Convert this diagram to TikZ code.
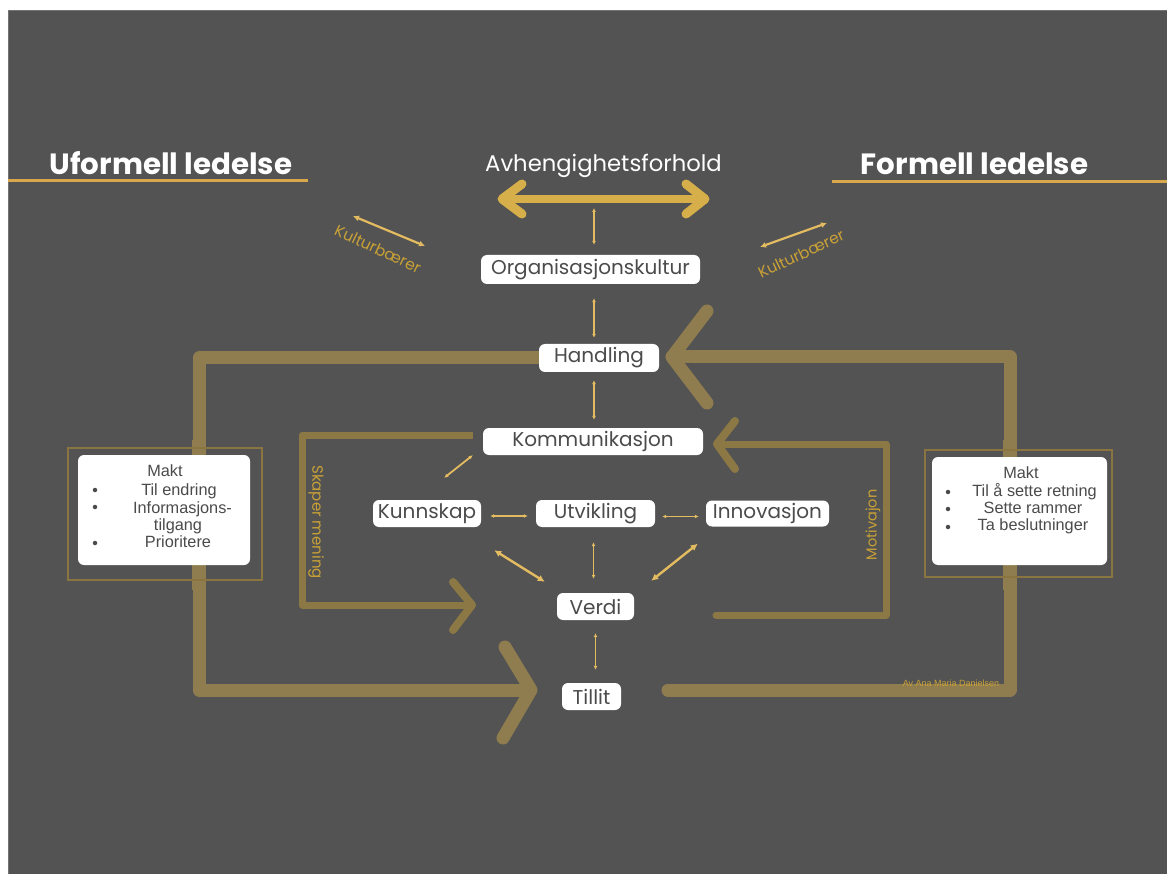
\documentclass[tikz,border=0pt]{standalone}
\usepackage{fontspec}
\setmainfont{Poppins}
\newfontfamily\arialfont{Liberation Sans}
\usetikzlibrary{arrows.meta,calc}
\definecolor{bg}{HTML}{535353}
\definecolor{boxtext}{HTML}{4B4B4B}
\definecolor{linegold}{HTML}{D9A84C}
\definecolor{tipgold}{HTML}{E3BB60}
\definecolor{labelgold}{HTML}{C9A136}
\definecolor{bargold}{HTML}{8F7D50}
\definecolor{innergold}{HTML}{8C7845}
\definecolor{brightgold}{HTML}{D6AE4A}
\definecolor{framegold}{HTML}{8A7540}
\tikzset{
  heading/.style={text=white, font=\fontsize{29.3}{31}\selectfont\bfseries, inner sep=0},
  stepbox/.style={fill=white, rounded corners=6pt, text=boxtext, inner sep=0,
                  font=\fontsize{20}{21}\selectfont},
  sarrow/.style={draw=tipgold, line width=1.3pt, {Latex[length=4pt,width=4pt]}-{Latex[length=4pt,width=4pt]}},
  darrow/.style={draw=tipgold, line width=2.4pt, {Latex[length=7pt,width=7pt]}-{Latex[length=7pt,width=7pt]}},
  karrow/.style={draw=tipgold, line width=2.2pt, {Latex[length=6pt,width=6pt]}-{Latex[length=6pt,width=6pt]}},
  outerbar/.style={draw=bargold, line width=13pt, line join=round, line cap=round},
  innerbar/.style={draw=innergold, line width=7pt, line join=round, line cap=round},
  topbar/.style={draw=brightgold, line width=8pt, line join=round, line cap=round},
  goldlabel/.style={text=labelgold, inner sep=0},
  sidetext/.style={text=boxtext, inner sep=0, anchor=base, font=\arialfont\fontsize{16.3}{18}\selectfont},
  bullet/.style={circle, fill=boxtext, inner sep=0, minimum size=4.5pt},
}
\begin{document}
\begin{tikzpicture}[x=1pt,y=-1pt]
\useasboundingbox (0,0) rectangle (1167,874);
\fill[white] (0,0) rectangle (1167,874);
\fill[bg] (8,10) rectangle (1167,874);
\draw[black!55, line width=1.2pt] (8.5,874) -- (8.5,10.5) -- (1167,10.5);

% headings with golden underlines
\node[heading, anchor=base] (uform) at (171,175) {Uformell ledelse};
\node[heading, anchor=base] (form) at (974.5,175) {Formell ledelse};
\draw[linegold, line width=3pt] (8,180.5) -- (308,180.5);
\draw[linegold, line width=3pt] (832,182) -- (1167,182);

\node[text=white, inner sep=0, anchor=base, font=\fontsize{22.7}{24}\selectfont] (avh) at (603.5,172) {Avhengighetsforhold};

% bright double arrow under the title
\coordinate (avhL) at (502,199);
\coordinate (avhR) at (705,199);
\coordinate (avhC) at (594,199);
\draw[topbar] (avhL) -- (avhR);
\draw[topbar, line width=9pt] (522,184) -- (avhL) -- (522,214);
\draw[topbar, line width=9pt] (686,184) -- (avhR) -- (686,214);

% outer loops
\coordinate (oL1) at (199,358);
\coordinate (oL2) at (199,690);
\coordinate (oLtip) at (531,690);
\coordinate (oR0) at (668,690);
\coordinate (oR1) at (1010,690);
\coordinate (oR2) at (1010,357);
\coordinate (oRtip) at (672,357);
\draw[outerbar, line cap=butt] (539,358) -- (oL1) -- (oL2) -- (oLtip);
\draw[outerbar] (505,647) -- (oLtip) -- (503,738);
\draw[outerbar] (oR0) -- (oR1) -- (oR2) -- (oRtip);
\draw[outerbar] (707,311) -- (oRtip) -- (707,403);

% inner loops
\coordinate (iL0) at (473,435);
\coordinate (iL1) at (302,435);
\coordinate (iL2) at (302,605);
\coordinate (iLtip) at (472,605);
\coordinate (iR0) at (716,615);
\coordinate (iR1) at (886,615);
\coordinate (iR2) at (886,444);
\coordinate (iRtip) at (717,444);
\draw[innerbar, line cap=butt] (iL0) -- (iL1) -- (iL2) -- (iLtip);
\draw[innerbar, line width=8pt] (453,582) -- (iLtip) -- (453,630);
\draw[innerbar] (iR0) -- (iR1) -- (iR2) -- (iRtip);
\draw[innerbar, line width=8pt] (735,421) -- (iRtip) -- (735,469);

\node[goldlabel, rotate=-90, font=\fontsize{15}{15}\selectfont] (skaper) at (316,522) {Skaper mening};
\node[goldlabel, rotate=90, font=\fontsize{14.5}{15}\selectfont] (motiv) at (873,525) {Motivajon};

% side panels
\fill[bargold] (192,440) rectangle (206,590);
\fill[bargold] (1003,440) rectangle (1017,590);
\draw[framegold, line width=1.5pt] (68,448) rectangle (262,580);
\draw[framegold, line width=1.5pt] (925,450) rectangle (1112,577);
\node[fill=white, rounded corners=6pt, minimum width=172pt, minimum height=110pt, inner sep=0] (leftpanel) at (164,510) {};
\node[fill=white, rounded corners=6pt, minimum width=175pt, minimum height=108pt, inner sep=0] (rightpanel) at (1019.5,511) {};

\node[sidetext] (lmakt) at (165,476) {Makt};
\node[sidetext] (l1) at (179,495) {Til endring};
\node[sidetext] (l2) at (182.5,513) {Informasjons-};
\node[sidetext] (l3) at (178,530) {tilgang};
\node[sidetext] (l4) at (178,547) {Prioritere};
\node[bullet] (lb1) at (95,490) {};
\node[bullet] (lb2) at (95,507) {};
\node[bullet] (lb3) at (95,543) {};

\node[sidetext] (rmakt) at (1021,478) {Makt};
\node[sidetext] (r1) at (1034.5,496) {Til å sette retning};
\node[sidetext] (r2) at (1033,513) {Sette rammer};
\node[sidetext] (r3) at (1033,530) {Ta beslutninger};
\node[bullet] (rb1) at (948,492) {};
\node[bullet] (rb2) at (948,509) {};
\node[bullet] (rb3) at (948,527) {};

% Kulturbærer arrows
\coordinate (kl1) at (353,216);
\coordinate (kl2) at (425,246);
\coordinate (kr1) at (760,247);
\coordinate (kr2) at (827,223);
\draw[karrow] (kl1) -- (kl2);
\draw[karrow] (kr1) -- (kr2);
\node[goldlabel, rotate=-25, font=\fontsize{15.5}{16}\selectfont] (kultL) at (378,249) {Kulturbærer};
\node[goldlabel, rotate=25, font=\fontsize{15.5}{16}\selectfont] (kultR) at (801,254) {Kulturbærer};

% central chain of concepts
\node[stepbox, minimum width=219pt, minimum height=29pt] (org) at (590.5,269.5) {Organisasjonskultur};
\node[stepbox, minimum width=120pt, minimum height=28pt] (hand) at (599,358) {Handling};
\node[stepbox, minimum width=220pt, minimum height=27pt] (komm) at (593,441.5) {Kommunikasjon};
\node[stepbox, minimum width=108pt, minimum height=27pt] (kunn) at (427,513.5) {Kunnskap};
\node[stepbox, minimum width=119pt, minimum height=27pt] (utv) at (595.5,513.5) {Utvikling};
\node[stepbox, minimum width=123pt, minimum height=26pt] (inno) at (767.5,513.5) {Innovasjon};
\node[stepbox, minimum width=77pt, minimum height=27pt] (verdi) at (595.5,606.5) {Verdi};
\node[stepbox, minimum width=59pt, minimum height=27pt] (tillit) at (591.5,696.5) {Tillit};

\draw[sarrow, shorten <=9pt, shorten >=10pt] (avhC) -- (avhC |- org.north);
\draw[sarrow, shorten <=14pt, shorten >=6pt] (org.south -| avhC) -- (hand.north -| avhC);
\draw[sarrow, shorten <=8pt, shorten >=8pt] (hand.south -| avhC) -- (komm.north -| avhC);
\draw[sarrow] ($(kunn.east)+(9,2.5)$) -- ($(utv.west)+(-8,2.5)$);
\draw[sarrow] ($(utv.east)+(7,3)$) -- ($(inno.west)+(-7,3)$);
\draw[sarrow, shorten <=15pt, shorten >=14pt] ($(utv.south)+(-2,0)$) -- ($(verdi.north)+(-2,0)$);
\draw[sarrow, shorten <=13pt, shorten >=13pt] (verdi.south) -- (verdi.south |- tillit.north);
\draw[sarrow, line width=1.8pt] ($(komm.south west)+(-10,0)$) -- ($(kunn.north east)+(-37,-22)$);
\draw[darrow] ($(kunn.south east)+(13,23)$) -- ($(verdi.north west)+(-12,-11)$);
\draw[darrow] ($(inno.south west)+(-8,17)$) -- ($(verdi.north east)+(17,-12)$);

\node[goldlabel, font=\arialfont\fontsize{9}{9}\selectfont] (sign) at (951,683) {Av Ana Maria Danielsen};
\end{tikzpicture}
\end{document}
